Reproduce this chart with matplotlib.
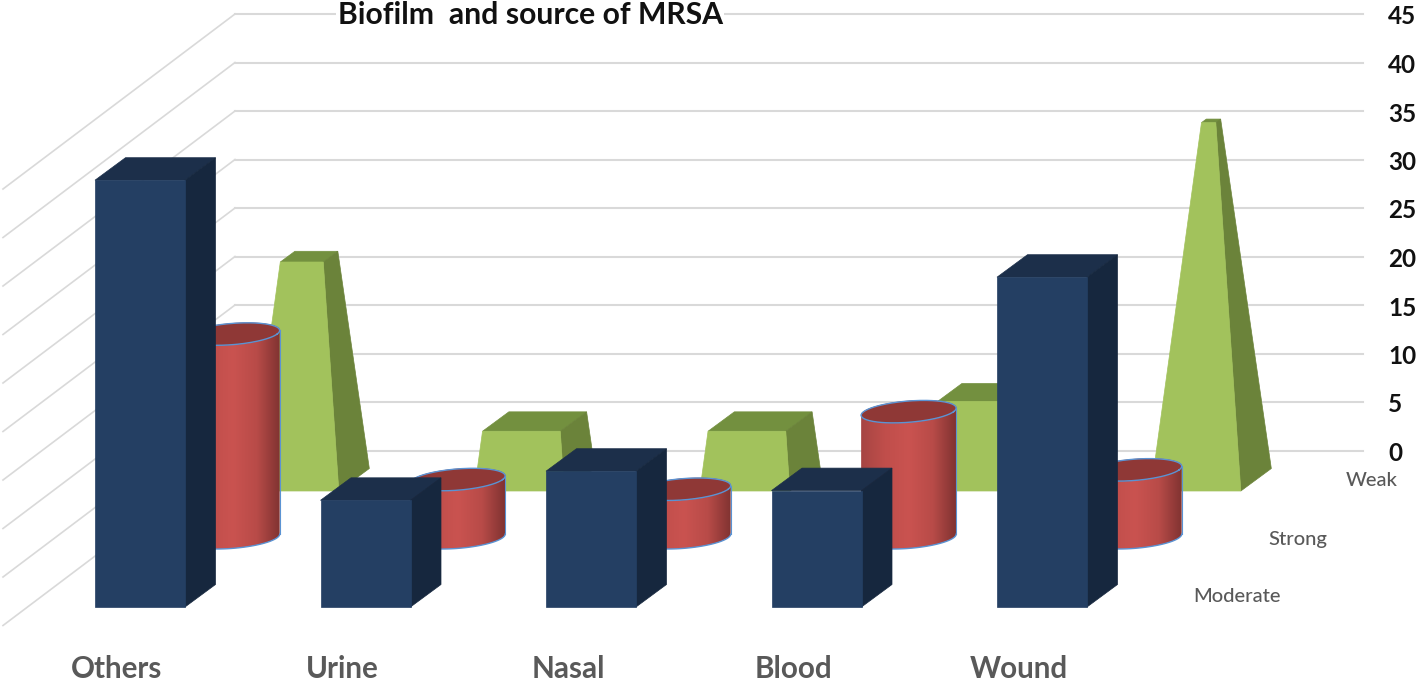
import numpy as np
import matplotlib
matplotlib.use("Agg")
import matplotlib.pyplot as plt
from matplotlib.colors import LinearSegmentedColormap
from matplotlib.patches import Polygon, PathPatch
from matplotlib.path import Path

categories = ["Others", "Urine", "Nasal", "Blood", "Wound"]
series_names = ["Moderate", "Strong", "Weak"]
moderate = [44, 11, 14, 12, 34]
strong = [21, 6, 5, 13, 7]
weak = [23, 6, 6, 9, 37]
ticks = [0, 5, 10, 15, 20, 25, 30, 35, 40, 45]
title = "Biofilm  and source of MRSA"

plt.rcParams["font.family"] = ["Lato", "DejaVu Sans"]

# oblique projection, everything in image pixels
X0, Y0 = 95.0, 607.0
STEP = 225.5
W = 90.0
DX, DY = 30.5, 22.5
ROW_DY = 58.0
ROW_DX = ROW_DY * 1.326
SCALE = 9.7
WALL_X0, WALL_X1, WALL_Y0 = 235.0, 1363.0, 450.5
SIDE_DX, SIDE_DY = -232.0, 175.0
PYRAMID_MAX = max(moderate + strong + weak)
SERIES_LABEL_X = [1237, 1298, 1372]

fig = plt.figure(figsize=(14.18, 6.81), dpi=100)
ax = fig.add_axes([0, 0, 1, 1])
ax.set_xlim(0, 1418)
ax.set_ylim(681, 0)
ax.axis("off")


def proj(c, r, u, v, val=0.0):
    x = X0 + c * STEP + r * ROW_DX + u * W + v * DX
    y = Y0 - r * ROW_DY - v * DY - val * SCALE
    return x, y


def face(points, color, z):
    ax.add_patch(Polygon(points, closed=True, facecolor=color, edgecolor=color, lw=0.5, zorder=z))


def box(c, r, val, z):
    p = lambda u, v, h: proj(c, r, u, v, h)
    face([p(0, 0, val), p(1, 0, val), p(1, 1, val), p(0, 1, val)], "#1c2f4a", z)
    face([p(1, 0, 0), p(1, 1, 0), p(1, 1, val), p(1, 0, val)], "#16273e", z)
    face([p(0, 0, 0), p(1, 0, 0), p(1, 0, val), p(0, 0, val)], "#243f63", z)


def pyramid(c, r, val, z):
    s = 1 - val / PYRAMID_MAX

    def p(u, v, h):
        if h > 0:
            u = 0.5 + (u - 0.5) * s
            v = 0.5 + (v - 0.5) * s
        return proj(c, r, u, v, h)

    face([p(0, 0, val), p(1, 0, val), p(1, 1, val), p(0, 1, val)], "#73903f", z)
    face([p(1, 0, 0), p(1, 1, 0), p(1, 1, val), p(1, 0, val)], "#6b833a", z)
    face([p(0, 0, 0), p(1, 0, 0), p(1, 0, val), p(0, 0, val)], "#a2c25c", z)


red_map = LinearSegmentedColormap.from_list(
    "red_side", ["#a64543", "#c04e4b", "#ca5350", "#b84b48", "#7e3230"]
)


def cylinder(c, r, val, z):
    def ring(t, h):
        u = 0.5 + 0.5 * np.cos(t)
        v = 0.5 + 0.5 * np.sin(t)
        return np.array(proj(c, r, u, v, h)).T

    t0 = np.arctan2(DX, W)
    front = np.linspace(t0, t0 - np.pi, 80)
    body = np.vstack([ring(front, 0), ring(front[::-1], val)])
    clip = PathPatch(Path(np.vstack([body, body[:1]])), transform=ax.transData)
    grad = np.linspace(0, 1, 256).reshape(1, -1)
    im = ax.imshow(
        grad, cmap=red_map, aspect="auto", zorder=z, interpolation="bilinear",
        extent=[body[:, 0].min(), body[:, 0].max(), body[:, 1].max(), body[:, 1].min()],
    )
    im.set_clip_path(clip)
    all_t = np.linspace(0, 2 * np.pi, 160)
    top = ring(all_t, val)
    face(top, "#8f3836", z)
    ax.plot(body[:80, 0], body[:80, 1], color="#5b93d3", lw=1.0, zorder=z)
    side_x = [ring(front[:1], 0)[0, 0], ring(front[:1], val)[0, 0]]
    side_y = [ring(front[:1], 0)[0, 1], ring(front[:1], val)[0, 1]]
    ax.plot(side_x, side_y, color="#5b93d3", lw=0.8, zorder=z)
    ax.plot(top[:, 0], top[:, 1], color="#5b93d3", lw=1.0, zorder=z)


# back wall and side wall
for t in ticks:
    y = WALL_Y0 - t * SCALE
    ax.plot([WALL_X0, WALL_X1], [y, y], color="#d9d9d9", lw=1.5, zorder=1)
    ax.plot([WALL_X0, WALL_X0 + SIDE_DX], [y, y + SIDE_DY], color="#d9d9d9", lw=1.2, zorder=1)
    ax.text(1388, y + 3, str(t), fontsize=17.5, fontweight="bold", color="#111111", va="center", ha="left", zorder=20)

# back row first, so the front rows cover it
for c in range(len(categories)):
    pyramid(c, 2, weak[c], 3 + c * 0.01)
for c in range(len(categories)):
    cylinder(c, 1, strong[c], 5 + c * 0.01)
for c in range(len(categories)):
    box(c, 0, moderate[c], 7 + c * 0.01)

for c, name in enumerate(categories):
    x = proj(c, 0, 0.5, 0)[0] - 23
    ax.text(x, 669.5, name, fontsize=21.3, fontweight="bold", color="#595959", ha="center", va="center", zorder=20)

for r, name in enumerate(series_names):
    y = 597 - r * 58
    ax.text(SERIES_LABEL_X[r], y, name, fontsize=14.5, fontweight="medium", color="#595959", ha="center", va="center", zorder=20)

ax.text(530, 15, title, fontsize=21.7, fontweight="bold", color="#111111", ha="center", va="center", zorder=20,
        bbox=dict(facecolor="white", edgecolor="none", pad=1))

ax.set_xlim(0, 1418)
ax.set_ylim(681, 0)
fig.savefig("out.png", dpi=100, facecolor="white")
